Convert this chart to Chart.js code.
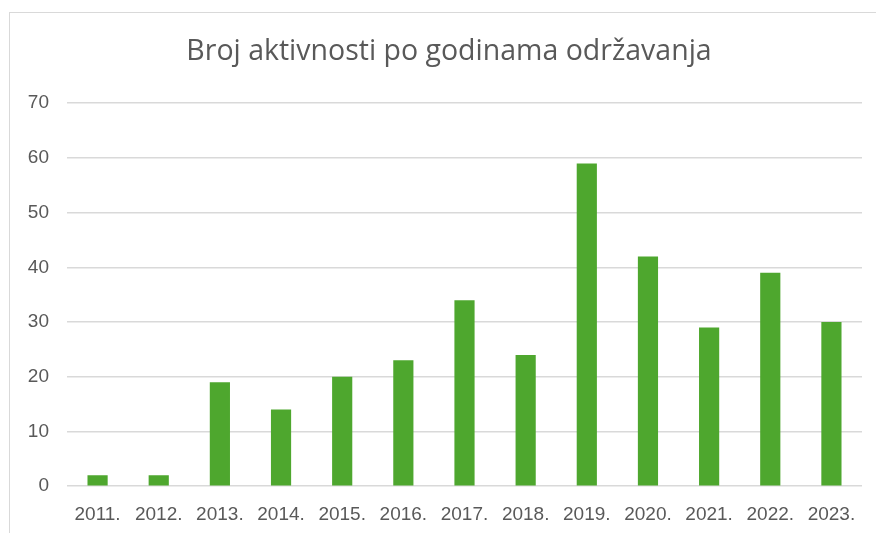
<!DOCTYPE html>
<html>
<head>
<meta charset="utf-8">
<script src="https://cdn.jsdelivr.net/npm/chart.js@4"></script>
<style>
  html, body { margin: 0; padding: 0; background: #fff; overflow: hidden; }
  #frame { position: absolute; left: 9px; top: 12px; width: 920px; height: 560px; border: 1.5px solid #d9d9d9; }
  #wrap { position: absolute; left: 0; top: 0; width: 898px; height: 552px; }
</style>
</head>
<body>
<div id="frame"></div>
<div id="wrap"><canvas id="barChart"></canvas></div>
<script>
var years = ['2011.', '2012.', '2013.', '2014.', '2015.', '2016.', '2017.', '2018.', '2019.', '2020.', '2021.', '2022.', '2023.'];
var activities = [2, 2, 19, 14, 20, 23, 34, 24, 59, 42, 29, 39, 30];
var yTicks = [0, 10, 20, 30, 40, 50, 60, 70];

var ctx = document.getElementById('barChart').getContext('2d');
var myChart = new Chart(ctx, {
    type: 'bar',
    data: {
        labels: years,
        datasets: [{
            label: 'Broj aktivnosti',
            data: activities,
            backgroundColor: '#4ea72e',
            borderWidth: 0,
            categoryPercentage: 1,
            barPercentage: 0.33
        }]
    },
    options: {
        responsive: true,
        maintainAspectRatio: false,
        animation: false,
        layout: {
            padding: { left: 0, right: 0, top: 0, bottom: 8 }
        },
        scales: {
            x: {
                grid: { display: false, drawTicks: false },
                border: { display: false },
                ticks: {
                    color: '#595959',
                    padding: 17.5,
                    maxRotation: 0,
                    autoSkip: false,
                    font: { family: '"Liberation Sans", Arial', size: 19, lineHeight: 1.2 }
                }
            },
            y: {
                min: 0,
                max: 70,
                afterFit: function (scale) { scale.width = 67; },
                afterBuildTicks: function (scale) {
                    scale.ticks = yTicks.map(function (v) { return { value: v }; });
                },
                grid: { color: '#d9d9d9', lineWidth: 1.5, drawTicks: false },
                border: { display: false },
                ticks: {
                    color: '#595959',
                    padding: 18,
                    font: { family: '"Liberation Sans", Arial', size: 19 }
                }
            },
            // empty right axis, only reserves space so the title sits in the middle of the frame
            yRight: {
                position: 'right',
                afterFit: function (scale) { scale.width = 36; },
                grid: { display: false, drawTicks: false },
                border: { display: false },
                ticks: { display: false }
            }
        },
        plugins: {
            legend: { display: false },
            tooltip: { enabled: false },
            title: {
                display: true,
                text: 'Broj aktivnosti po godinama održavanja',
                color: '#595959',
                padding: { top: 35, bottom: 34 },
                font: { family: '"Open Sans"', size: 28.5, weight: 'normal', lineHeight: 1.2 }
            }
        }
    }
});
</script>
</body>
</html>
